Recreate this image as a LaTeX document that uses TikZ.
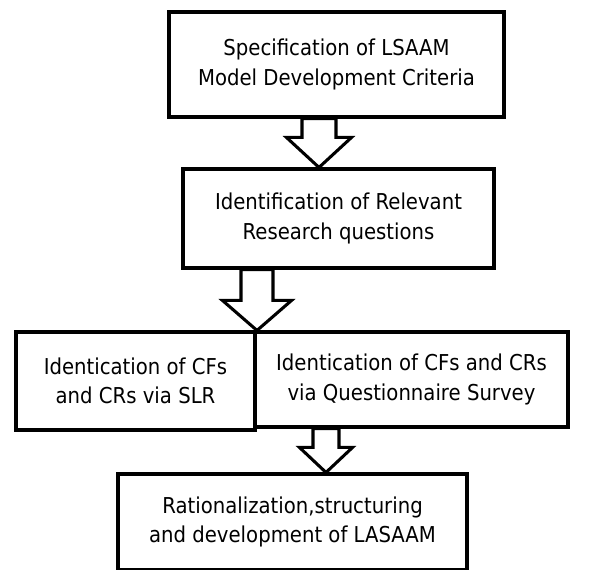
\documentclass[tikz,border=0pt]{standalone}
\usepackage{fontspec}
\setmainfont{DejaVu Sans}[FakeStretch=0.9]
\usetikzlibrary{calc}

\begin{document}
\begin{tikzpicture}[x=0.75pt,y=-0.75pt,
     box/.style={draw,line width=2.3pt,rectangle,align=center,inner sep=0pt,font=\fontsize{16.4}{22}\selectfont},
     hollow/.style={draw,line width=2.3pt,fill=white,line join=miter}
     ]
%Picture frame in pixels of the reference
\useasboundingbox (0,0) rectangle (590,570);

%The boxes of the flow
\node[box,minimum width=335*0.75pt,minimum height=105*0.75pt] (spec) at (336.5,64.5) {Specification of LSAAM\\Model Development Criteria};
\node[box,minimum width=311*0.75pt,minimum height=99*0.75pt] (relq) at (338.5,218.5) {Identification of Relevant\\Research questions};
\node[box,minimum width=239*0.75pt,minimum height=98*0.75pt] (slr) at (135.5,381) {Identication of CFs\\and CRs via SLR};
\node[box,minimum width=313*0.75pt,minimum height=95*0.75pt] (quest) at (411.5,379.5) {Identication of CFs and CRs\\via Questionnaire Survey};
\node[box,minimum width=349*0.75pt,minimum height=96*0.75pt] (ratio) at (292.5,522) {Rationalization,structuring\\and development of LASAAM};

%Hollow block arrows: from/to/x/shaft/head/head length
\foreach \fnode/\tnode/\ax/\sw/\hw/\hl in {spec/relq/319/17/32.5/30, relq/slr/257/16/34.5/30, quest/ratio/326/13/26.5/25}
{
\coordinate (s) at (\ax,0 |- \fnode.south);
\coordinate (t) at (\ax,0 |- \tnode.north);
\draw[hollow] ($(s)+(-\sw,0)$) -- ($(t)+(-\sw,-\hl)$) -- ($(t)+(-\hw,-\hl)$) -- (t)
      -- ($(t)+(\hw,-\hl)$) -- ($(t)+(\sw,-\hl)$) -- ($(s)+(\sw,0)$) -- cycle;
}
\end{tikzpicture}
\end{document}
